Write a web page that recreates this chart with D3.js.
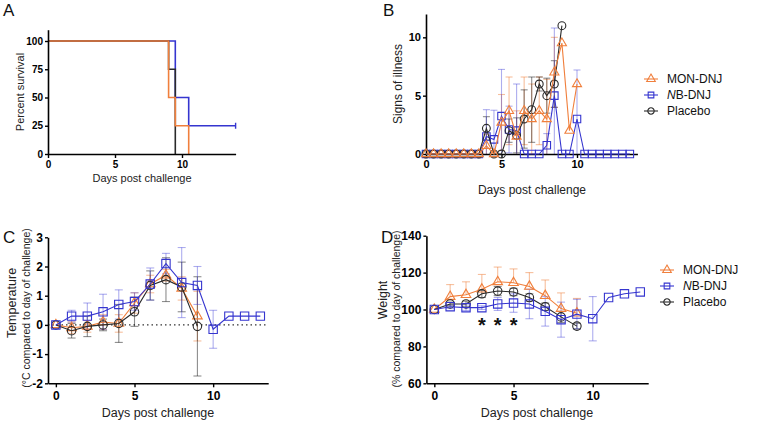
<!DOCTYPE html>
<html><head><meta charset="utf-8">
<script src="https://cdn.jsdelivr.net/npm/d3@7"></script>
<style>body{margin:0;background:#fff} svg{display:block}</style>
</head><body><svg id="c" width="764" height="422"></svg>
<script>
// ---------- DATA ----------
// A: survival (Kaplan-Meier steps)
const survMonT = [0, 9, 9.5, 10.5];
const survMonP = [100, 50, 25, 0];
const survNbT = [0, 9.5, 10.5, 14];
const survNbP = [100, 50, 25, 25];
const survPlaT = [0, 9, 9.5];
const survPlaP = [100, 75, 0];
const survCensorNbT = [14];
const survCensorNbP = [25];
const survXTicks = [0, 5, 10];
const survYTicks = [0, 25, 50, 75, 100];

// B: signs of illness (half-day steps)
const illDaysMon = [0,0.5,1,1.5,2,2.5,3,3.5,4,4.5,5,5.5,6,6.5,7,7.5,8,8.5,9,9.5,10];
const illMon     = [0,0,0,0,0,0,0,0,0.7,0,2.7,3.7,1.5,3.7,3.0,3.7,3.0,7.0,9.5,2.0,6.0];
const illMonErr  = [0,0,0,0,0,0,0,0,1.0,0,2.4,2.9,2.2,2.9,3.0,2.9,3.4,3.0,0,0,0];
const illDaysNb  = [0,0.5,1,1.5,2,2.5,3,3.5,4,4.5,5,5.5,6,6.5,7,7.5,8,8.5,9,9.5,10,10.5,11,11.5,12,12.5,13,13.5];
const illNb      = [0,0,0,0,0,0,0,0,1.5,1.25,3.25,2.1,2.0,0,0,0,0.75,5.0,0,0,3.0,0,0,0,0,0,0,0];
const illNbErr   = [0,0,0,0,0,0,0,0,2.3,2.5,4.0,2.0,4.0,0,0,0,1.0,5.8,0,0,4.2,0,0,0,0,0,0,0];
const illDaysPla = [0,0.5,1,1.5,2,2.5,3,3.5,4,4.5,5,5.5,6,6.5,7,7.5,8,8.5,9];
const illPla     = [0,0,0,0,0,0,0,0,2.2,0,0,2.0,1.6,3.0,3.8,6.0,5.0,6.0,11.0];
const illPlaErr  = [0,0,0,0,0,0,0,0,1.0,0,0,1.0,1.5,2.5,2.8,0.6,1.5,2.0,0];
const illXTicks = [0, 5, 10];
const illYTicks = [0, 5, 10];

// C: temperature
const tempDaysMon = [0,1,2,3,4,5,6,7,8,9];
const tempMon     = [0,-0.1,-0.05,0.1,0.05,0.75,1.4,1.7,1.25,0.3];
const tempMonErr  = [0,0.2,0.2,0.25,0.3,0.35,0.3,0.2,0.4,0.85];
const tempDaysNb  = [0,1,2,3,4,5,6,7,8,9,10,11,12,13];
const tempNb      = [0,0.3,0.3,0.45,0.7,0.8,1.4,2.1,1.45,1.35,-0.15,0.3,0.3,0.3];
const tempNbErr   = [0,0.2,0.45,0.6,0.5,0.3,0.55,0.35,1.2,0.65,0.65,0,0,0];
const tempDaysPla = [0,1,2,3,4,5,6,7,8,9];
const tempPla     = [0,-0.2,-0.05,0,0.05,0.45,1.35,1.55,1.3,-0.05];
const tempPlaErr  = [0,0.25,0.35,0.2,0.65,0.5,0.5,0.75,0.85,1.7];
const tempXTicks = [0, 5, 10];
const tempYTicks = [-2, -1, 0, 1, 2, 3];

// D: weight
const wDaysMon = [0,1,2,3,4,5,6,7,8,9];
const wMon     = [100,107,108,111,115,114.5,112.5,107.5,100.5,98];
const wMonErr  = [0,6.5,7,8,8,7.5,7.5,8.5,8.5,8];
const wDaysNb  = [0,1,2,3,4,5,6,7,8,9,10,11,12,13];
const wNb      = [100,101.5,101,101,103,103.5,103,99,94.5,97.5,95,106.5,108.5,109.5];
const wNbErr   = [0,1,1.5,1,3.5,5,8,8,9.5,8,12,0,0,0];
const wDaysPla = [0,1,2,3,4,5,6,7,8,9];
const wPla     = [100,103,103,108.5,110,109.5,106.5,101.5,96,91];
const wPlaErr  = [0,1,1.5,2,2.5,2,2,2,3,1.5];
const wStarDays = [3, 4, 5];
const wStarVal = [94, 94, 94];
const wXTicks = [0, 5, 10];
const wYTicks = [60, 80, 100, 120, 140];

const legendNames = ["MON-DNJ", "NB-DNJ", "Placebo"];

// ---------- STYLE ----------
const FONT = '"Liberation Sans", Arial, sans-serif';
const C_MON = "#F07F3C", C_NB = "#3535CF", C_PLA = "#2a2a2a";
const E_MON = "rgba(240,127,60,0.5)", E_NB = "rgba(60,60,215,0.42)", E_PLA = "rgba(30,30,30,0.5)";

const svg = d3.select("#c").attr("font-family", FONT);
svg.append("rect").attr("width",764).attr("height",422).attr("fill","#fff");

function drawAxes(x, y, xt, yt, fs, xpad) {
  const g = svg.append("g").attr("font-family", FONT);
  const fmt = d => String(d);
  const gx = g.append("g").attr("transform", `translate(0,${y.range()[0]})`)
    .call(d3.axisBottom(x).tickValues(xt).tickFormat(fmt).tickSize(4).tickSizeOuter(0).tickPadding(xpad));
  const gy = g.append("g").attr("transform", `translate(${x.range()[0]},0)`)
    .call(d3.axisLeft(y).tickValues(yt).tickFormat(fmt).tickSize(3).tickSizeOuter(0).tickPadding(2));
  [gx, gy].forEach(a => {
    a.attr("font-family", FONT);
    a.select(".domain").attr("stroke", "#000").attr("stroke-width", 1.6);
    a.selectAll(".tick line").attr("stroke", "#000").attr("stroke-width", 1.4);
    a.selectAll(".tick text").attr("font-size", fs).attr("font-weight", "bold").attr("fill", "#000");
  });
}
function label(txt, x, y, fs, rot) {
  const t = svg.append("text").attr("font-size", fs).attr("fill", "#222").attr("text-anchor", "middle").text(txt);
  if (rot) t.attr("transform", `translate(${x},${y}) rotate(-90)`).attr("dy", "0.35em");
  else t.attr("x", x).attr("y", y);
  return t;
}
function errBars(x, y, days, vals, errs, color, upOnly, capW) {
  const [lo, hi] = y.domain();
  const g = svg.append("g").attr("stroke", color).attr("stroke-width", 1.1);
  days.forEach((d, i) => {
    if (!errs[i]) return;
    const top = vals[i] + errs[i];
    const bot = upOnly ? vals[i] : vals[i] - errs[i];
    const t = Math.min(top, hi), b = Math.max(bot, lo);
    g.append("line").attr("x1", x(d)).attr("x2", x(d)).attr("y1", y(b)).attr("y2", y(t));
    if (top <= hi) g.append("line").attr("x1", x(d) - capW/2).attr("x2", x(d) + capW/2).attr("y1", y(top)).attr("y2", y(top));
    if (!upOnly && bot >= lo) g.append("line").attr("x1", x(d) - capW/2).attr("x2", x(d) + capW/2).attr("y1", y(bot)).attr("y2", y(bot));
  });
}
function series(x, y, days, vals, color, sym, size) {
  const pts = days.map((d, i) => [d, vals[i]]);
  svg.append("path").datum(pts).attr("fill", "none").attr("stroke", color).attr("stroke-width", 1.1)
    .attr("d", d3.line().x(p => x(p[0])).y(p => y(p[1])));
  svg.append("g").selectAll("path").data(pts).join("path")
    .attr("transform", p => `translate(${x(p[0])},${y(p[1])})`)
    .attr("d", d3.symbol(sym, size)).attr("fill", "none").attr("stroke", color).attr("stroke-width", 1.1);
}
function legend(x0, ys, fs) {
  const cols = [C_MON, C_NB, C_PLA], syms = [d3.symbolTriangle, d3.symbolSquare, d3.symbolCircle];
  legendNames.forEach((n, i) => {
    svg.append("line").attr("x1", x0 - 7).attr("x2", x0 + 7).attr("y1", ys[i]).attr("y2", ys[i]).attr("stroke", cols[i]).attr("stroke-width", 1.1);
    svg.append("path").attr("transform", `translate(${x0},${ys[i]})`).attr("d", d3.symbol(syms[i], 32)).attr("fill", "none").attr("stroke", cols[i]).attr("stroke-width", 1.1);
    const t = svg.append("text").attr("x", x0 + 16).attr("y", ys[i]).attr("dy", "0.35em").attr("font-size", fs).attr("fill", "#111");
    if (n === "NB-DNJ") { t.append("tspan").attr("font-style", "italic").text("N"); t.append("tspan").text("B-DNJ"); }
    else t.text(n);
  });
}
function panelLetter(txt, x, y) {
  svg.append("text").attr("x", x).attr("y", y).attr("font-size", 17).attr("fill", "#111").text(txt);
}

// ---------- PANEL A ----------
{
  const x = d3.scaleLinear([0, 14], [48, 235.6]);
  const y = d3.scaleLinear([0, 110], [154, 29.7]);
  const line = d3.line().x(p => x(p[0])).y(p => y(p[1])).curve(d3.curveStepAfter);
  const draw = (T, P, c) => svg.append("path").datum(T.map((t, i) => [t, P[i]]))
    .attr("fill", "none").attr("stroke", c).attr("stroke-width", 1.6).attr("d", line);
  draw(survNbT, survNbP, C_NB);
  svg.selectAll(".cens").data(survCensorNbT).join("line")
    .attr("x1", t => x(t)).attr("x2", t => x(t))
    .attr("y1", (t, i) => y(survCensorNbP[i]) - 3).attr("y2", (t, i) => y(survCensorNbP[i]) + 3)
    .attr("stroke", C_NB).attr("stroke-width", 1.4);
  draw(survPlaT, survPlaP, C_PLA);
  draw(survMonT, survMonP, C_MON);
  drawAxes(x, y, survXTicks, survYTicks, 10, 3);
  label("Days post challenge", 142, 182, 11);
  label("Percent survival", 20, 92, 11, true);
  panelLetter("A", 3, 16);
}

// ---------- PANEL B ----------
{
  const x = d3.scaleLinear([0, 14], [426, 637.4]);
  const y = d3.scaleLinear([0, 12], [154, 14]);
  errBars(x, y, illDaysMon, illMon, illMonErr, E_MON, false, 7);
  errBars(x, y, illDaysPla, illPla, illPlaErr, E_PLA, false, 7);
  errBars(x, y, illDaysNb, illNb, illNbErr, E_NB, false, 7);
  drawAxes(x, y, illXTicks, illYTicks, 11, 2);
  series(x, y, illDaysNb, illNb, C_NB, d3.symbolSquare, 56);
  series(x, y, illDaysPla, illPla, C_PLA, d3.symbolCircle, 48);
  series(x, y, illDaysMon, illMon, C_MON, d3.symbolTriangle, 36);
  label("Days post challenge", 532, 194, 12);
  label("Signs of illness", 398, 84, 12, true);
  legend(651, [79, 95, 111], 12);
  panelLetter("B", 383, 16);
}

// ---------- PANEL C ----------
{
  const x = d3.scaleLinear([-0.5, 13.5], [48, 268.2]);
  const y = d3.scaleLinear([-2, 3], [383.3, 237.3]);
  svg.append("line").attr("x1", x(-0.5)).attr("x2", x(13.5)).attr("y1", y(0)).attr("y2", y(0))
    .attr("stroke", "#333").attr("stroke-width", 1.4).attr("stroke-dasharray", "1.5,3");
  errBars(x, y, tempDaysMon, tempMon, tempMonErr, E_MON, false, 8);
  errBars(x, y, tempDaysPla, tempPla, tempPlaErr, E_PLA, false, 8);
  errBars(x, y, tempDaysNb, tempNb, tempNbErr, E_NB, false, 8);
  drawAxes(x, y, tempXTicks, tempYTicks, 12, 4);
  series(x, y, tempDaysMon, tempMon, C_MON, d3.symbolTriangle, 40);
  series(x, y, tempDaysPla, tempPla, C_PLA, d3.symbolCircle, 56);
  series(x, y, tempDaysNb, tempNb, C_NB, d3.symbolSquare, 70);
  label("Days post challenge", 158, 417, 12.5);
  label("Temperature", 12, 303, 12.5, true);
  label("(°C compared to day of challenge)", 26, 308, 10.5, true);
  panelLetter("C", 3, 243);
}

// ---------- PANEL D ----------
{
  const x = d3.scaleLinear([-0.5, 13.5], [426.4, 648.2]);
  const y = d3.scaleLinear([60, 140], [383.3, 235.7]);
  errBars(x, y, wDaysMon, wMon, wMonErr, E_MON, true, 8);
  errBars(x, y, wDaysPla, wPla, wPlaErr, E_PLA, false, 8);
  errBars(x, y, wDaysNb, wNb, wNbErr, E_NB, false, 8);
  drawAxes(x, y, wXTicks, wYTicks, 12, 4);
  series(x, y, wDaysMon, wMon, C_MON, d3.symbolTriangle, 40);
  series(x, y, wDaysPla, wPla, C_PLA, d3.symbolCircle, 56);
  series(x, y, wDaysNb, wNb, C_NB, d3.symbolSquare, 70);
  svg.append("g").selectAll("text").data(wStarDays).join("text")
    .attr("x", d => x(d)).attr("y", (d, i) => y(wStarVal[i]) + 11)
    .attr("text-anchor", "middle").attr("font-size", 20).attr("font-weight", "bold").attr("fill", "#111").text("*");
  label("Days post challenge", 537, 417, 12.5);
  label("Weight", 383, 300, 12.5, true);
  label("(% compared to day of challenge)", 396, 309, 10.5, true);
  legend(667, [270, 286, 302], 12);
  panelLetter("D", 381, 243);
}
</script></body></html>
